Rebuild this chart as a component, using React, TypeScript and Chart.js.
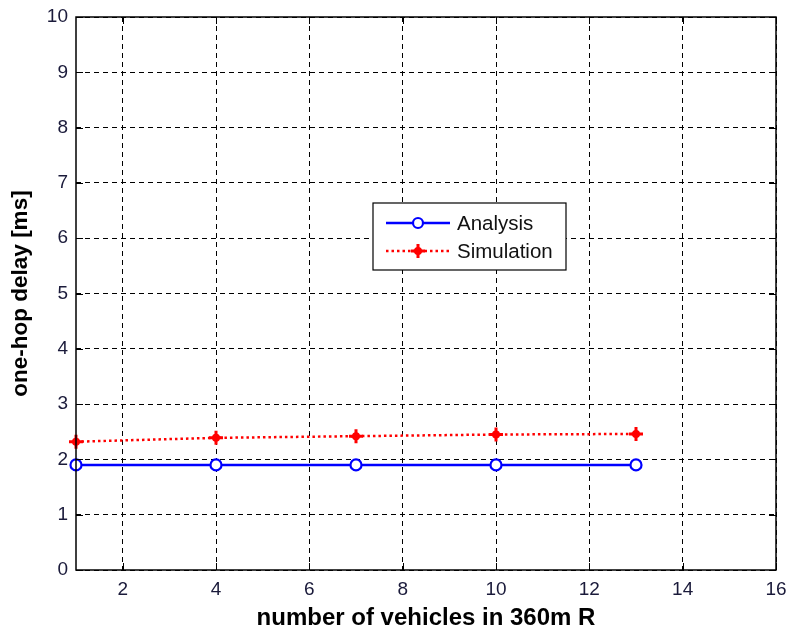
import React, { useEffect, useRef } from "react";
import { Chart, registerables } from "chart.js";

Chart.register(...registerables);

const vehicles = [1, 4, 7, 10, 13];
const analysis = [1.9, 1.9, 1.9, 1.9, 1.9];
const simulation = [2.32, 2.39, 2.42, 2.45, 2.46];
const xTicks = [2, 4, 6, 8, 10, 12, 14, 16];
const yTicks = [0, 1, 2, 3, 4, 5, 6, 7, 8, 9, 10];
const seriesNames = ["Analysis", "Simulation"];
const xTitle = "number of vehicles in 360m R";
const yTitle = "one-hop delay [ms]";

const FONT = "'Liberation Sans', Arial, sans-serif";

const boxPlugin = {
  id: "boxPlugin",
  afterDraw(chart: any) {
    const { ctx, chartArea: a, scales } = chart;
    ctx.save();
    ctx.strokeStyle = "#000";
    ctx.lineWidth = 1;
    ctx.setLineDash([]);
    const tl = 7;
    ctx.beginPath();
    for (const t of xTicks) {
      const x = Math.round(scales.x.getPixelForValue(t)) + 0.5;
      ctx.moveTo(x, a.bottom);
      ctx.lineTo(x, a.bottom - tl);
      ctx.moveTo(x, a.top);
      ctx.lineTo(x, a.top + tl);
    }
    for (const t of yTicks) {
      const y = Math.round(scales.y.getPixelForValue(t)) + 0.5;
      ctx.moveTo(a.left, y);
      ctx.lineTo(a.left + tl, y);
      ctx.moveTo(a.right, y);
      ctx.lineTo(a.right - tl, y);
    }
    ctx.stroke();
    ctx.lineWidth = 1.5;
    ctx.strokeRect(a.left, a.top, a.right - a.left, a.bottom - a.top);

    // legend
    const lx = a.left + 297;
    const ly = 203;
    const lw = 193;
    const lh = 67;
    ctx.fillStyle = "#fff";
    ctx.fillRect(lx, ly, lw, lh);
    ctx.lineWidth = 1.2;
    ctx.strokeStyle = "#000";
    ctx.strokeRect(lx, ly, lw, lh);
    const rows = [ly + 20, ly + 48];
    ctx.strokeStyle = "#0000ff";
    ctx.lineWidth = 2.5;
    ctx.beginPath();
    ctx.moveTo(lx + 13, rows[0]);
    ctx.lineTo(lx + 77, rows[0]);
    ctx.stroke();
    ctx.beginPath();
    ctx.arc(lx + 45, rows[0], 5, 0, Math.PI * 2);
    ctx.fillStyle = "#fff";
    ctx.fill();
    ctx.lineWidth = 2.2;
    ctx.stroke();
    ctx.strokeStyle = "#ff0000";
    ctx.lineWidth = 2.5;
    ctx.setLineDash([2.5, 3]);
    ctx.beginPath();
    ctx.moveTo(lx + 13, rows[1]);
    ctx.lineTo(lx + 77, rows[1]);
    ctx.stroke();
    ctx.setLineDash([]);
    ctx.lineWidth = 3;
    ctx.beginPath();
    ctx.moveTo(lx + 38, rows[1]);
    ctx.lineTo(lx + 52, rows[1]);
    ctx.moveTo(lx + 45, rows[1] - 7);
    ctx.lineTo(lx + 45, rows[1] + 7);
    ctx.stroke();
    ctx.fillStyle = "#ff0000";
    ctx.beginPath();
    ctx.arc(lx + 45, rows[1], 4, 0, Math.PI * 2);
    ctx.fill();
    ctx.fillStyle = "#111";
    ctx.font = `20.5px ${FONT}`;
    ctx.textBaseline = "middle";
    ctx.textAlign = "left";
    ctx.fillText(seriesNames[0], lx + 84, rows[0] + 1);
    ctx.fillText(seriesNames[1], lx + 84, rows[1] + 1);
    ctx.restore();
  },
};

export default function App() {
  const ref = useRef<HTMLCanvasElement>(null);
  useEffect(() => {
    if (!ref.current) return;
    const pts = (ys: number[]) => vehicles.map((v, i) => ({ x: v, y: ys[i] }));
    const chart = new Chart(ref.current, {
      type: "line",
      data: {
        datasets: [
          {
            label: seriesNames[1],
            data: pts(simulation),
            borderColor: "#ff0000",
            backgroundColor: "#ff0000",
            borderWidth: 2.5,
            borderDash: [2.5, 3],
            pointRadius: 0,
            clip: false,
          },
          {
            label: "sim-markers",
            data: pts(simulation),
            showLine: false,
            borderColor: "#ff0000",
            backgroundColor: "#ff0000",
            pointStyle: "cross",
            pointRadius: 7,
            pointBorderWidth: 3,
            clip: false,
          },
          {
            label: "sim-dots",
            data: pts(simulation),
            showLine: false,
            borderColor: "#ff0000",
            backgroundColor: "#ff0000",
            pointStyle: "circle",
            pointRadius: 4,
            pointBorderWidth: 0,
            clip: false,
          },
          {
            label: seriesNames[0],
            data: pts(analysis),
            borderColor: "#0000ff",
            backgroundColor: "#fff",
            borderWidth: 2.5,
            pointStyle: "circle",
            pointRadius: 5.5,
            pointBorderWidth: 2.2,
            pointBorderColor: "#0000ff",
            pointBackgroundColor: "rgba(255,255,255,1)",
            clip: false,
          },
        ],
      },
      options: {
        animation: false,
        responsive: false,
        maintainAspectRatio: false,
        layout: { padding: { left: 7, right: 0, top: 17, bottom: 0 } },
        plugins: { legend: { display: false }, tooltip: { enabled: false } },
        scales: {
          x: {
            type: "linear",
            min: 1,
            max: 16,
            afterBuildTicks: (s: any) => {
              s.ticks = xTicks.map((v) => ({ value: v }));
            },
            afterFit: (s: any) => {
              s.height = 59;
              s.paddingRight = 10;
            },
            grid: { color: "#000", lineWidth: 1, drawTicks: false },
            border: { display: false, dash: [5, 4] },
            ticks: {
              color: "#1a1a3a",
              font: { family: FONT, size: 19 },
              padding: 8,
              maxRotation: 0,
            },
            title: {
              display: true,
              text: xTitle,
              color: "#000",
              font: { family: FONT, size: 24, weight: "bold" },
              padding: { top: 0, bottom: -4 },
            },
          },
          y: {
            type: "linear",
            min: 0,
            max: 10,
            afterBuildTicks: (s: any) => {
              s.ticks = yTicks.map((v) => ({ value: v }));
            },
            afterFit: (s: any) => {
              s.width = 69;
              s.paddingTop = 0;
            },
            grid: { color: "#000", lineWidth: 1, drawTicks: false },
            border: { display: false, dash: [5, 4] },
            ticks: {
              color: "#1a1a3a",
              font: { family: FONT, size: 19 },
              padding: 8,
            },
            title: {
              display: true,
              text: yTitle,
              color: "#000",
              font: { family: FONT, size: 22.5, weight: "bold" },
              padding: { top: 0, bottom: 0 },
            },
          },
        },
      },
      plugins: [boxPlugin],
    } as any);
    return () => chart.destroy();
  }, []);
  return (
    <div style={{ position: "absolute", left: 0, top: 0, width: 786, height: 629, background: "#fff" }}>
      <canvas ref={ref} width={786} height={629} style={{ display: "block" }} />
    </div>
  );
}
